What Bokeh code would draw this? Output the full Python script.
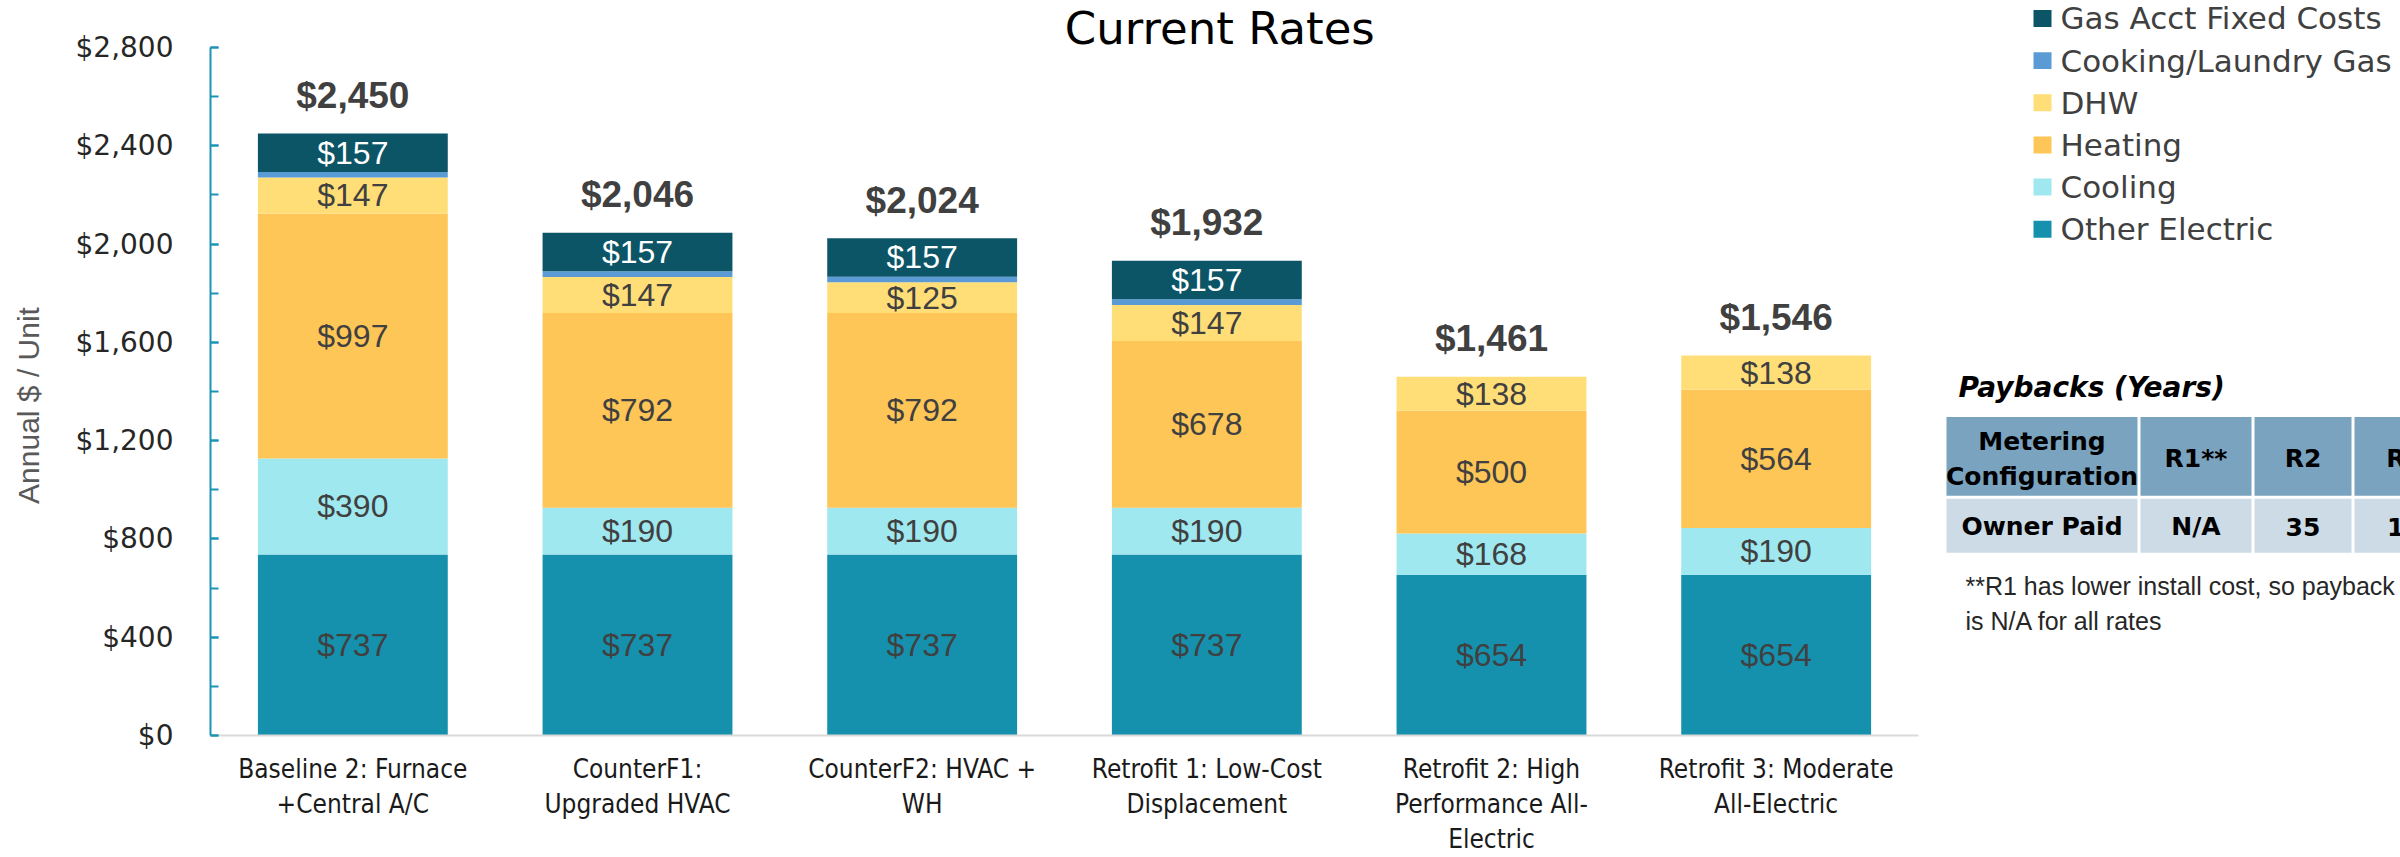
from bokeh.plotting import figure
from bokeh.models import (FactorRange, Range1d, ColumnDataSource, NumeralTickFormatter,
                          SingleIntervalTicker)
from bokeh.layouts import row
from bokeh.embed import file_html
from bokeh.resources import INLINE
from bokeh.core.properties import value

# ---------------- data ----------------
categories = [
    "Baseline 2: Furnace\n+Central A/C",
    "CounterF1:\nUpgraded HVAC",
    "CounterF2: HVAC +\nWH",
    "Retrofit 1: Low-Cost\nDisplacement",
    "Retrofit 2: High\nPerformance All-\nElectric",
    "Retrofit 3: Moderate\nAll-Electric",
]
series_names = ["Other Electric", "Cooling", "Heating", "DHW",
                "Cooking/Laundry Gas", "Gas Acct Fixed Costs"]
other_electric = [737, 737, 737, 737, 654, 654]
cooling = [390, 190, 190, 190, 168, 190]
heating = [997, 792, 792, 678, 500, 564]
dhw = [147, 147, 125, 147, 138, 138]
cooking_laundry_gas = [22, 23, 23, 23, 0, 0]
gas_acct_fixed = [157, 157, 157, 157, 0, 0]
totals = [2450, 2046, 2024, 1932, 1461, 1546]

colors = ["#1591AE", "#9FE8EF", "#FEC557", "#FFDE78", "#5B9BD5", "#0C5567"]
label_colors = ["#404040", "#404040", "#404040", "#404040", None, "#FFFFFF"]

y_ticks_interval = 400
y_axis_max = 2800

chart_title = "Current Rates"
y_axis_title = "Annual $ / Unit"
table_title = "Paybacks (Years)"
table_header = ["Metering\nConfiguration", "R1**", "R2", "R3"]
table_row = ["Owner Paid", "N/A", "35", "13"]
footnote = ["**R1 has lower install cost, so payback", "is N/A for all rates"]

# ---------------- layout constants (pixels) ----------------
W_TOTAL, H = 2400, 857
FRAME_LEFT, FRAME_RIGHT, FRAME_BOTTOM = 210, 1918, 736
AXIS_TOP_PX = 47
W1 = 1930
px_per_unit = (FRAME_BOTTOM - AXIS_TOP_PX) / y_axis_max
y_top = FRAME_BOTTOM / px_per_unit  # data value at the top edge of the frame

# ---------------- main chart ----------------
stack_keys = ["other_electric", "cooling", "heating", "dhw", "cooking_gas", "gas_fixed"]
series_arrays = [other_electric, cooling, heating, dhw, cooking_laundry_gas, gas_acct_fixed]
data = dict(category=categories)
for k, arr in zip(stack_keys, series_arrays):
    data[k] = arr
src = ColumnDataSource(data=data)

p = figure(x_range=FactorRange(*categories, range_padding=0), y_range=Range1d(0, y_top),
           width=W1, height=H, output_backend="svg", toolbar_location=None,
           min_border_left=FRAME_LEFT, min_border_right=W1 - FRAME_RIGHT, min_border_top=0,
           min_border_bottom=H - FRAME_BOTTOM)
p.vbar_stack(stack_keys, x="category", width=0.667, fill_color=colors, line_color=None,
             source=src)

# segment labels
lx, ly, lt, lc = [], [], [], []
for i, cat in enumerate(categories):
    base = 0
    for arr, col in zip(series_arrays, label_colors):
        v = arr[i]
        if col is not None and v > 0:
            lx.append(cat)
            ly.append(base + v / 2)
            lt.append(f"${v:,}")
            lc.append(col)
        base += v
seg_src = ColumnDataSource(data=dict(x=lx, y=ly, t=lt, c=lc))
p.text(x="x", y="y", text="t", text_color="c", source=seg_src, text_align="center",
       text_baseline="middle", text_font=value("Liberation Sans"), text_font_size="32px")

# totals
stack_sums = [sum(arr[i] for arr in series_arrays) for i in range(len(categories))]
tot_src = ColumnDataSource(data=dict(x=categories, y=stack_sums,
                                     t=[f"${t:,}" for t in totals]))
p.text(x="x", y="y", text="t", source=tot_src, text_align="center", text_baseline="middle",
       y_offset=-38, text_color="#404040", text_font=value("Liberation Sans"),
       text_font_style="bold", text_font_size="37px")

# chart title (inside the top of the frame, above the axis bounds)
p.text(x=[categories[3]], y=[(FRAME_BOTTOM - 28) / px_per_unit], text=[chart_title],
       x_offset=13, text_align="center", text_baseline="middle",
       text_font=value("DejaVu Sans"), text_font_size="45px", text_color="#000000")

p.xgrid.grid_line_color = None
p.ygrid.grid_line_color = None
p.outline_line_color = None

p.yaxis.bounds = (0, y_axis_max)
p.yaxis.ticker = SingleIntervalTicker(interval=y_ticks_interval, num_minor_ticks=2)
p.yaxis.formatter = NumeralTickFormatter(format="$0,0")
p.yaxis.axis_line_color = "#1C93B2"
p.yaxis.axis_line_width = 2
p.yaxis.major_tick_line_color = "#1C93B2"
p.yaxis.minor_tick_line_color = "#1C93B2"
p.yaxis.major_tick_line_width = 2
p.yaxis.minor_tick_line_width = 2
p.yaxis.major_tick_in = 8
p.yaxis.major_tick_out = 0
p.yaxis.minor_tick_in = 8
p.yaxis.minor_tick_out = 0
p.yaxis.major_label_standoff = 37
p.yaxis.major_label_text_font = "DejaVu Sans"
p.yaxis.major_label_text_font_size = "28px"
p.yaxis.major_label_text_color = "#262626"
# trailing no-break spaces shift the centred title down to the centre of the axis bounds
p.yaxis.axis_label = y_axis_title + "\u00a0" * 9
p.yaxis.axis_label_text_font = "Liberation Sans"
p.yaxis.axis_label_text_font_style = "normal"
p.yaxis.axis_label_text_font_size = "30px"
p.yaxis.axis_label_text_color = "#595959"
p.yaxis.axis_label_standoff = 28

p.xaxis.axis_line_color = "#D9D9D9"
p.xaxis.axis_line_width = 2
p.xaxis.major_tick_line_color = None
p.xaxis.major_tick_out = 0
p.xaxis.major_tick_in = 0
p.xaxis.major_label_standoff = 18
p.xaxis.major_label_text_font = "Liberation Sans Narrow, DejaVu Sans Condensed, sans-serif"
p.xaxis.major_label_text_font_size = "26px"
p.xaxis.major_label_text_color = "#1A1A1A"
p.xaxis.major_label_text_line_height = 1.18

# ---------------- right panel: legend + table ----------------
W2 = W_TOTAL - W1
p2 = figure(x_range=Range1d(W1, W_TOTAL), y_range=Range1d(FRAME_BOTTOM, 0), width=W2, height=H,
            output_backend="svg", toolbar_location=None, min_border_left=0,
            min_border_right=0, min_border_top=0, min_border_bottom=H - FRAME_BOTTOM,
            x_axis_type=None, y_axis_type=None)
p2.xgrid.grid_line_color = None
p2.ygrid.grid_line_color = None
p2.outline_line_color = None

leg_names = series_names[::-1]
leg_colors = colors[::-1]
leg_y = [18 + 42.2 * i for i in range(len(leg_names))]
p2.rect(x=[2042] * len(leg_names), y=leg_y, width=18, height=17, fill_color=leg_colors,
        line_color=None)
p2.text(x=[2060] * len(leg_names), y=leg_y, text=leg_names, text_baseline="middle",
        text_align="left", text_font=value("DejaVu Sans"), text_font_size="31px",
        text_color="#404040")

# table
p2.text(x=[1958], y=[388], text=[table_title], text_baseline="middle", text_align="left",
        text_font=value("DejaVu Sans"), text_font_style="bold italic",
        text_font_size="28px", text_color="#000000")
col_edges = [(1946, 2137), (2140, 2251), (2254, 2351), (2354, 2460)]
hdr_rows = (417, 496)
body_rows = (499, 553)
p2.quad(left=[c[0] for c in col_edges], right=[c[1] for c in col_edges],
        top=[hdr_rows[0]] * 4, bottom=[hdr_rows[1]] * 4, fill_color="#7AA3C0", line_color=None)
p2.quad(left=[c[0] for c in col_edges], right=[c[1] for c in col_edges],
        top=[body_rows[0]] * 4, bottom=[body_rows[1]] * 4, fill_color="#CCDBE5", line_color=None)
col_cx = [(c[0] + c[1]) / 2 for c in col_edges[:3]] + [2404]
p2.text(x=col_cx, y=[459] * 4, text=table_header, text_align="center", text_baseline="middle",
        text_font=value("DejaVu Sans"), text_font_style="bold", text_font_size="25px",
        text_line_height=1.2, text_color="#000000")
p2.text(x=col_cx, y=[527] * 4, text=table_row, text_align="center", text_baseline="middle",
        text_font=value("DejaVu Sans"), text_font_style="bold", text_font_size="25px",
        text_color="#000000")
p2.text(x=[1965, 1965], y=[586, 621], text=footnote, text_align="left", text_baseline="middle",
        text_font=value("Liberation Sans"), text_font_size="25px", text_color="#262626")

layout = row(p, p2)
open("out.html", "w").write(file_html(layout, INLINE))
